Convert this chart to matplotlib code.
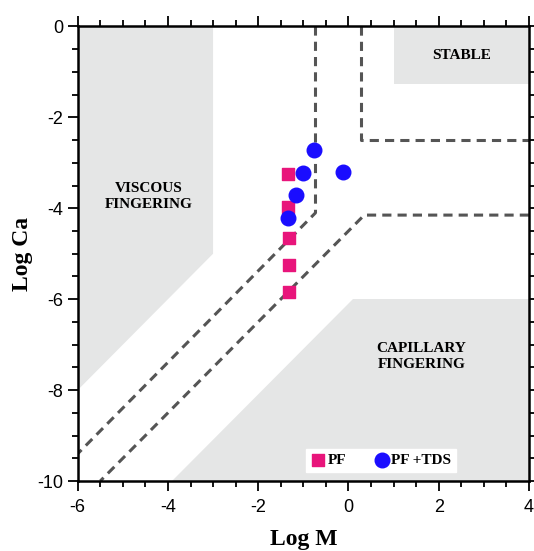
import matplotlib.pyplot as plt
from matplotlib.ticker import MultipleLocator

plt.rcParams['axes.unicode_minus'] = False

# measured points
pf_m = [-1.33, -1.33, -1.32, -1.32, -1.32]
pf_ca = [-3.25, -3.97, -4.66, -5.25, -5.84]

tds_m = [-0.77, -1.01, -0.12, -1.16, -1.33]
tds_ca = [-2.71, -3.23, -3.20, -3.71, -4.22]

# phase regions (shaded)
viscous_m = [-6, -3, -3, -6]
viscous_ca = [0, 0, -5, -8]
stable_m = [1, 4, 4, 1]
stable_ca = [0, 0, -1.27, -1.27]
capillary_m = [0.1, 4, 4, -3.9]
capillary_ca = [-6, -6, -10, -10]

# dashed boundaries
b1_m = [-0.73, -0.73, -6]
b1_ca = [0, -4.1, -9.4]
b2_m = [0.27, 0.27, 4]
b2_ca = [0, -2.5, -2.5]
b3_m = [4, 0.35, -5.5]
b3_ca = [-4.15, -4.15, -10]

grey = '#e5e6e6'
dash_col = '#555555'

fig = plt.figure(figsize=(5.34, 5.51), dpi=100)
ax = fig.add_axes([0.1455, 0.127, 0.845, 0.825])

ax.fill(viscous_m, viscous_ca, color=grey, lw=0, zorder=0)
ax.fill(stable_m, stable_ca, color=grey, lw=0, zorder=0)
ax.fill(capillary_m, capillary_ca, color=grey, lw=0, zorder=0)

for m, ca in [(b1_m, b1_ca), (b2_m, b2_ca), (b3_m, b3_ca)]:
    ax.plot(m, ca, color=dash_col, lw=2.2, dashes=(3, 2), zorder=1)

ax.scatter(pf_m, pf_ca, marker='s', s=75, color='#e8157b', zorder=3, label='PF')
ax.scatter(tds_m, tds_ca, marker='o', s=110, color='#1a0dff', zorder=3, label='PF +TDS')

serif = 'Liberation Serif'
ax.text(-4.42, -3.74, 'VISCOUS\nFINGERING', ha='center', va='center',
        fontsize=11, family=serif, fontweight='bold', linespacing=1.3)
ax.text(2.51, -0.63, 'STABLE', ha='center', va='center', fontsize=11,
        family=serif, fontweight='bold')
ax.text(1.62, -7.25, 'CAPILLARY\nFINGERING', ha='center', va='center',
        fontsize=11, family=serif, fontweight='bold', linespacing=1.3)

leg = ax.legend(loc='lower center', bbox_to_anchor=(0.672, 0.02), ncol=2,
                frameon=True, fancybox=False, framealpha=1, edgecolor='white',
                prop={'family': serif, 'size': 11, 'weight': 'bold'},
                handletextpad=0.15, columnspacing=1.8, borderpad=0.3,
                handlelength=1.0, borderaxespad=0)

ax.set_xlim(-6, 4)
ax.set_ylim(-10, 0)
ax.xaxis.set_major_locator(MultipleLocator(2))
ax.xaxis.set_minor_locator(MultipleLocator(0.5))
ax.yaxis.set_major_locator(MultipleLocator(2))
ax.yaxis.set_minor_locator(MultipleLocator(0.5))
ax.tick_params(which='both', direction='out', top=True, right=True, width=1.3,
               labelsize=13)
ax.tick_params(which='major', length=7)
ax.tick_params(which='minor', length=4)
ax.tick_params(axis='x', pad=6)
for lab in ax.get_xticklabels() + ax.get_yticklabels():
    lab.set_family('Liberation Sans')
for sp in ax.spines.values():
    sp.set_linewidth(1.8)

ax.set_xlabel('Log M', fontsize=17, fontweight='bold', family=serif, labelpad=9)
ax.set_ylabel('Log Ca', fontsize=17, fontweight='bold', family=serif, labelpad=3)

fig.savefig('out.png', dpi=100)
